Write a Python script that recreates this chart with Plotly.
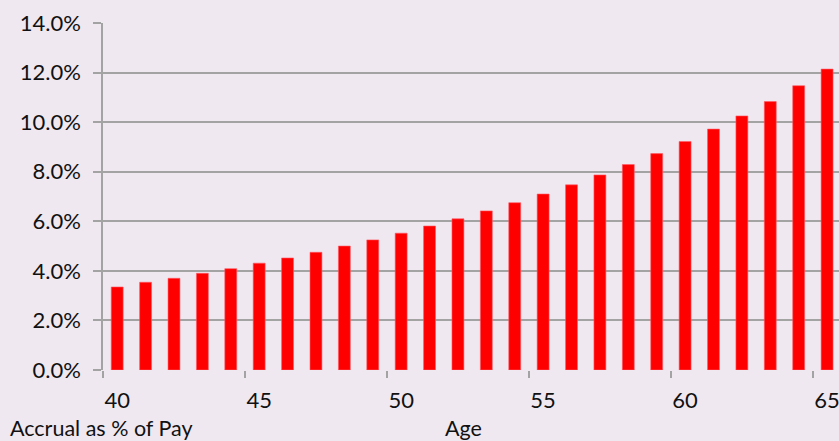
import plotly.graph_objects as go

# Pension accrual rate by age
ages = list(range(40, 66))
accrual_pct = [3.35, 3.54, 3.70, 3.90, 4.09, 4.31, 4.52, 4.75, 5.00, 5.25,
               5.52, 5.81, 6.10, 6.42, 6.75, 7.10, 7.47, 7.87, 8.29, 8.73,
               9.22, 9.72, 10.25, 10.83, 11.47, 12.14]
y_ticks = [0, 2, 4, 6, 8, 10, 12, 14]
x_ticks = [40, 45, 50, 55, 60, 65]

FONT = "Lato"
TEXT = "#111111"
GRID = "#a3a3a3"

fig = go.Figure(
    go.Bar(
        x=ages,
        y=[v / 100 for v in accrual_pct],
        marker=dict(color="#ff0000", line=dict(color="#ff5a64", width=0.6)),
        width=0.42,
        hoverinfo="skip",
    )
)

fig.update_layout(
    width=839,
    height=441,
    margin=dict(l=103, r=0, t=23, b=71),
    paper_bgcolor="#efe8f0",
    plot_bgcolor="rgba(0,0,0,0)",
    showlegend=False,
    font=dict(family=FONT, size=22, color=TEXT),
    xaxis=dict(
        range=[39.5, 65.42],
        tickmode="array",
        tickvals=x_ticks,
        ticktext=[str(t) for t in x_ticks],
        ticks="",
        showgrid=False,
        zeroline=False,
        showline=False,
        ticklabelstandoff=15,
        ticklabeloverflow="allow",
        minor=dict(tick0=39.5, dtick=5, ticks="outside", ticklen=7,
                   tickwidth=1.5, tickcolor=GRID, showgrid=False),
    ),
    yaxis=dict(
        range=[0, 0.14],
        tickmode="array",
        tickvals=[v / 100 for v in y_ticks],
        tickformat=".1%",
        ticks="outside",
        ticklen=8,
        tickwidth=1.5,
        tickcolor=GRID,
        showgrid=True,
        gridcolor=GRID,
        gridwidth=1.5,
        showline=True,
        linecolor=GRID,
        linewidth=1.5,
        zeroline=False,
        ticklabelstandoff=8,
    ),
    annotations=[
        dict(text="Accrual as % of Pay", x=8, y=428, xref="paper", yref="paper",
             xanchor="left", yanchor="middle", showarrow=False,
             font=dict(family=FONT, size=21.5, color=TEXT)),
        dict(text="Age", x=463, y=428, xref="paper", yref="paper",
             xanchor="center", yanchor="middle", showarrow=False,
             font=dict(family=FONT, size=21.5, color=TEXT)),
    ],
)

# annotation positions given in pixels from the top-left -> paper fractions
for a in fig.layout.annotations:
    a.x = (a.x - 103) / (839 - 103)
    a.y = (441 - 71 - a.y) / (441 - 23 - 71)

fig.write_html("out.html")
